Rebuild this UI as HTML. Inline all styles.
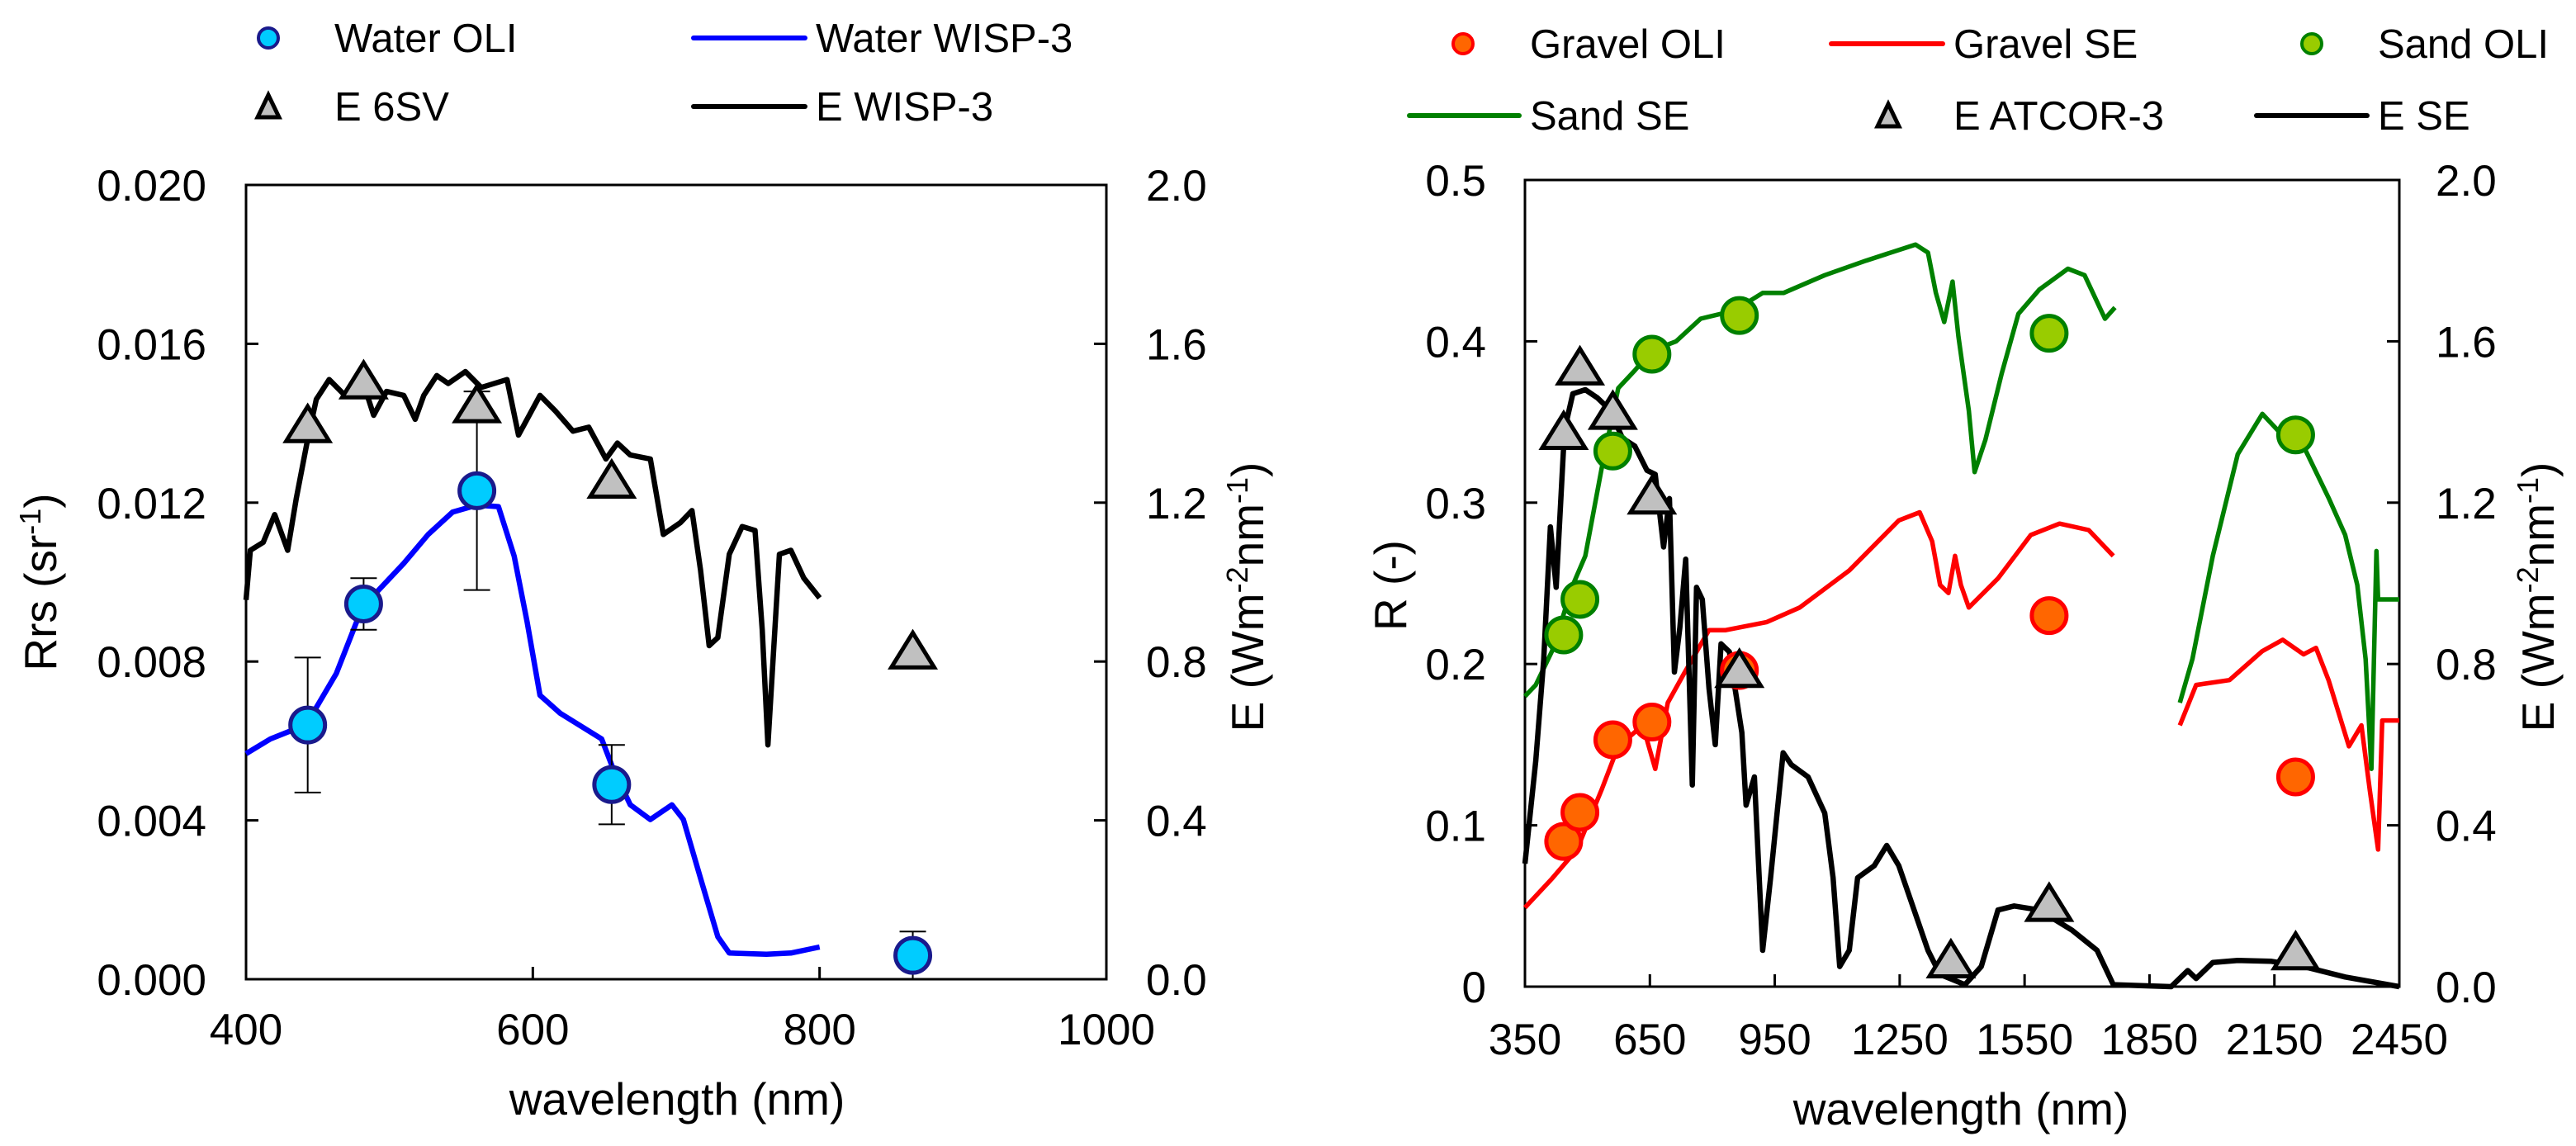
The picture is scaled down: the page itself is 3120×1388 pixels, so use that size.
<!DOCTYPE html>
<html><head><meta charset="utf-8">
<style>
html,body{margin:0;padding:0;background:#fff;overflow:hidden;}
svg{display:block;font-family:"Liberation Sans",Arial,sans-serif;}
</style></head>
<body>
<svg id="chart" width="3120" height="1388" viewBox="0 0 3120 1388" xmlns="http://www.w3.org/2000/svg">
<rect width="3120" height="1388" fill="#fff"/>
<g id="left"></g>
<g id="right"></g>
</svg>
<script>
// ---------- LEFT PANEL DATA ----------
const waterWispWl = [400,417,442,463,481,510,527,544,561,576,587,596,605,619,648,656,668,682,697,705,717,729,737,763,780,800];
const waterWispRrs = [0.00568,0.00605,0.00641,0.0077,0.00936,0.01047,0.0112,0.01176,0.01194,0.0119,0.01065,0.009,0.00715,0.0067,0.00605,0.0053,0.00439,0.00402,0.00439,0.00402,0.00254,0.00107,0.00066,0.00063,0.00066,0.00081];
const eWispWl = [400,403,412,420,429,435,443,449,458,469,481,489,498,510,518,524,533,541,553,564,582,590,605,616,628,639,651,659,668,682,691,703,711,717,723,729,737,746,755,760,764,772,780,789,800];
const eWispE = [0.955,1.08,1.10,1.17,1.08,1.21,1.36,1.46,1.51,1.47,1.51,1.42,1.48,1.47,1.41,1.47,1.52,1.50,1.53,1.49,1.51,1.37,1.47,1.43,1.38,1.39,1.31,1.35,1.32,1.31,1.12,1.15,1.18,1.03,0.84,0.86,1.07,1.14,1.13,0.88,0.59,1.07,1.08,1.01,0.96];
const oliWl = [443,482,561,655,865];
const waterOli = [0.0064,0.00945,0.0123,0.0049,0.0006];
const waterOliErr = [0.0017,0.00065,0.0025,0.001,0.0006];
const e6sv = [1.39,1.50,1.44,1.25,0.82];
const leftXTicks = [400,600,800,1000];
const leftYTicks = ["0.000","0.004","0.008","0.012","0.016","0.020"];
const leftY2Ticks = ["0.0","0.4","0.8","1.2","1.6","2.0"];

// ---------- RIGHT PANEL DATA ----------
const oliWl7 = [443,482,561,655,865,1609,2201];
const sandSeWl1 = [350,376,415,465,495,534,574,614,653,713,772,852,921,971,1070,1169,1288,1318,1337,1357,1377,1391,1416,1430,1456,1495,1535,1585,1654,1694,1743,1767];
const sandSeR1 = [0.18,0.187,0.208,0.249,0.267,0.321,0.371,0.382,0.394,0.40,0.414,0.419,0.43,0.43,0.441,0.45,0.46,0.455,0.43,0.412,0.437,0.403,0.357,0.319,0.339,0.38,0.417,0.432,0.445,0.441,0.414,0.421];
const sandSeWl2 = [1923,1953,2002,2062,2121,2161,2220,2280,2320,2349,2369,2383,2395,2399,2450];
const sandSeR2 = [0.176,0.203,0.267,0.33,0.355,0.344,0.335,0.303,0.28,0.249,0.203,0.135,0.27,0.24,0.24];
const gravelSeWl1 = [350,415,475,534,574,633,663,693,732,792,832,931,1010,1129,1248,1298,1328,1347,1367,1383,1397,1416,1486,1565,1634,1704,1763];
const gravelSeR1 = [0.049,0.067,0.085,0.122,0.149,0.162,0.135,0.176,0.194,0.221,0.221,0.226,0.235,0.258,0.289,0.294,0.276,0.249,0.244,0.267,0.249,0.235,0.253,0.28,0.287,0.283,0.267];
const gravelSeWl2 = [1923,1962,2042,2121,2170,2220,2250,2280,2329,2359,2379,2399,2409,2450];
const gravelSeR2 = [0.162,0.187,0.19,0.208,0.215,0.206,0.21,0.19,0.149,0.162,0.122,0.085,0.165,0.165];
const eSeWl = [350,376,395,411,425,445,465,495,524,554,584,614,643,663,683,697,709,722,736,752,762,776,792,807,821,841,871,881,901,921,940,970,990,1030,1070,1090,1106,1129,1149,1189,1219,1248,1288,1318,1347,1407,1446,1486,1525,1585,1664,1724,1763,1902,1942,1962,2002,2062,2141,2220,2320,2450];
const eSeE = [0.305,0.56,0.81,1.14,0.99,1.38,1.47,1.48,1.46,1.43,1.36,1.34,1.28,1.27,1.09,1.21,0.78,0.89,1.06,0.5,0.99,0.96,0.74,0.6,0.85,0.83,0.63,0.45,0.52,0.09,0.27,0.58,0.55,0.52,0.43,0.27,0.05,0.09,0.27,0.30,0.35,0.30,0.18,0.09,0.03,0.005,0.05,0.19,0.20,0.19,0.14,0.09,0.005,0,0.04,0.02,0.06,0.065,0.063,0.05,0.024,0];
const gravelOli = [0.09,0.108,0.153,0.164,0.196,0.23,0.13];
const sandOli = [0.218,0.24,0.332,0.392,0.416,0.405,0.342];
const eAtcorWl = [443,482,561,655,865,1373,1609,2201];
const eAtcor = [1.37,1.53,1.42,1.21,0.78,0.06,0.2,0.08];
const rightXTicks = [350,650,950,1250,1550,1850,2150,2450];
const rightYTicks = ["0","0.1","0.2","0.3","0.4","0.5"];
const rightY2Ticks = ["0.0","0.4","0.8","1.2","1.6","2.0"];

const NS = "http://www.w3.org/2000/svg";
function mk(parent, tag, attrs, txt){
  const e = document.createElementNS(NS, tag);
  for (const k in attrs) e.setAttribute(k, attrs[k]);
  if (txt !== undefined) e.textContent = txt;
  parent.appendChild(e);
  return e;
}
function lin(d0,d1,r0,r1){ return v => r0 + (v-d0)/(d1-d0)*(r1-r0); }
function pathD(xs, ys, fx, fy){ return xs.map((x,i)=>(i?'L':'M')+fx(x).toFixed(1)+','+fy(ys[i]).toFixed(1)).join(''); }
function circle(g, cx, cy, fill, stroke){
  return mk(g,'circle',{cx:cx,cy:cy,r:21,fill:fill,stroke:stroke,'stroke-width':5});
}
function tri(g, cx, cy){
  const h=42, w=52;
  return mk(g,'polygon',{points:`${cx},${cy-h*0.6} ${cx-w/2},${cy+h*0.4} ${cx+w/2},${cy+h*0.4}`,fill:'#c0c0c0',stroke:'#000','stroke-width':5});
}
function axesFrame(g, L, R, T, B){
  const f = mk(g,'rect',{x:L,y:T,width:R-L,height:B-T,fill:'none',stroke:'#000','stroke-width':3});
  
  
}
const FS = 53, TFS = 55, LFS = 49;

// ---------- LEFT ----------
(function(){
  const g = document.getElementById('left');
  const L=298,R=1340,T=224,B=1186;
  const fx = lin(400,1000,L,R), fy = lin(0,0.020,B,T), fy2 = lin(0,2.0,B,T);
  axesFrame(g,L,R,T,B);
  leftXTicks.forEach(v=>{
    const x=fx(v);
    const tk = mk(g,'line',{x1:x,y1:B,x2:x,y2:B-15,stroke:'#000','stroke-width':3});
    
    
    const t = mk(g,'text',{x:x,y:1265,'font-size':FS,'text-anchor':'middle'},String(v));
    
    
  });
  leftYTicks.forEach(s=>{
    const y=fy(parseFloat(s));
    mk(g,'line',{x1:L,y1:y,x2:L+15,y2:y,stroke:'#000','stroke-width':3});
    const t = mk(g,'text',{x:250,y:y+19,'font-size':FS,'text-anchor':'end'},s);
    
    
  });
  leftY2Ticks.forEach(s=>{
    const y=fy2(parseFloat(s));
    mk(g,'line',{x1:R,y1:y,x2:R-15,y2:y,stroke:'#000','stroke-width':3});
    const t = mk(g,'text',{x:1388,y:y+19,'font-size':FS,'text-anchor':'start'},s);
    
    
  });
  const xt = mk(g,'text',{x:820,y:1350,'font-size':TFS,'text-anchor':'middle'},'wavelength (nm)');
   
  const yt = mk(g,'text',{x:0,y:0,'font-size':TFS,'text-anchor':'middle',transform:'translate(68,705) rotate(-90)'});
   
  yt.innerHTML='Rrs (sr<tspan dy="-19" font-size="36">-1</tspan><tspan dy="19">)</tspan>';
  const y2t = mk(g,'text',{x:0,y:0,'font-size':TFS,'text-anchor':'middle',transform:'translate(1530,723) rotate(-90)'});
   
  y2t.innerHTML='E (Wm<tspan dy="-19" font-size="36">-2</tspan><tspan dy="19">nm</tspan><tspan dy="-19" font-size="36">-1</tspan><tspan dy="19">)</tspan>';

  const eLine = mk(g,'path',{d:pathD(eWispWl,eWispE,fx,fy2),fill:'none',stroke:'#000','stroke-width':6.5,'stroke-linejoin':'round'});
   
  const wLine = mk(g,'path',{d:pathD(waterWispWl,waterWispRrs,fx,fy),fill:'none',stroke:'#0000ff','stroke-width':6.5,'stroke-linejoin':'round'});
   
  oliWl.forEach((w,i)=>{
    const x=fx(w), y1=fy(waterOli[i]+waterOliErr[i]), y0=fy(Math.max(0,waterOli[i]-waterOliErr[i]));
    const eb = mk(g,'path',{d:`M${x},${y0}L${x},${y1}M${x-16},${y0}L${x+16},${y0}M${x-16},${y1}L${x+16},${y1}`,stroke:'#000','stroke-width':2,fill:'none'});
     
  });
  oliWl.forEach((w,i)=>{
    const c = circle(g,fx(w),fy(waterOli[i]),'#00ccff','#1a1a8c');
     
  });
  oliWl.forEach((w,i)=>{
    const t = tri(g,fx(w),fy2(e6sv[i]));
     
  });
  const lg = mk(g,'g',{});
   
  mk(lg,'circle',{cx:325,cy:46,r:12,fill:'#00ccff',stroke:'#1a1a8c','stroke-width':4});
  mk(lg,'text',{x:405,y:63,'font-size':LFS},'Water OLI');
  mk(lg,'line',{x1:840,y1:46,x2:975,y2:46,stroke:'#0000ff','stroke-width':6,'stroke-linecap':'round'});
  mk(lg,'text',{x:988,y:63,'font-size':LFS},'Water WISP-3');
  mk(lg,'polygon',{points:'325,115 312,142 338,142',fill:'#c0c0c0',stroke:'#000','stroke-width':5});
  mk(lg,'text',{x:405,y:146,'font-size':LFS},'E 6SV');
  mk(lg,'line',{x1:840,y1:129,x2:975,y2:129,stroke:'#000','stroke-width':6,'stroke-linecap':'round'});
  mk(lg,'text',{x:988,y:146,'font-size':LFS},'E WISP-3');
})();

// ---------- RIGHT ----------
(function(){
  const g = document.getElementById('right');
  const L=1847,R=2906,T=218,B=1195;
  const fx = lin(350,2450,L,R), fy = lin(0,0.5,B,T), fy2 = lin(0,2.0,B,T);
  axesFrame(g,L,R,T,B);
  rightXTicks.forEach(v=>{
    const x=fx(v);
    mk(g,'line',{x1:x,y1:B,x2:x,y2:B-15,stroke:'#000','stroke-width':3});
    const t = mk(g,'text',{x:x,y:1277,'font-size':FS,'text-anchor':'middle'},String(v));
     
  });
  rightYTicks.forEach(s=>{
    const y=fy(parseFloat(s));
    mk(g,'line',{x1:L,y1:y,x2:L+15,y2:y,stroke:'#000','stroke-width':3});
    const t = mk(g,'text',{x:1800,y:y+19,'font-size':FS,'text-anchor':'end'},s);
     
  });
  rightY2Ticks.forEach(s=>{
    const y=fy2(parseFloat(s));
    mk(g,'line',{x1:R,y1:y,x2:R-15,y2:y,stroke:'#000','stroke-width':3});
    const t = mk(g,'text',{x:2950,y:y+19,'font-size':FS,'text-anchor':'start'},s);
     
  });
  const xt = mk(g,'text',{x:2375,y:1362,'font-size':TFS,'text-anchor':'middle'},'wavelength (nm)');
   
  const yt = mk(g,'text',{x:0,y:0,'font-size':TFS,'text-anchor':'middle',transform:'translate(1703,709) rotate(-90)'},'R (-)');
   
  const y2t = mk(g,'text',{x:0,y:0,'font-size':TFS,'text-anchor':'middle',transform:'translate(3093,723) rotate(-90)'});
   
  y2t.innerHTML='E (Wm<tspan dy="-19" font-size="36">-2</tspan><tspan dy="19">nm</tspan><tspan dy="-19" font-size="36">-1</tspan><tspan dy="19">)</tspan>';

  let p;
  p = mk(g,'path',{d:pathD(sandSeWl1,sandSeR1,fx,fy)+pathD(sandSeWl2,sandSeR2,fx,fy),fill:'none',stroke:'#008000','stroke-width':5.5,'stroke-linejoin':'round'});
   
  p = mk(g,'path',{d:pathD(gravelSeWl1,gravelSeR1,fx,fy)+pathD(gravelSeWl2,gravelSeR2,fx,fy),fill:'none',stroke:'#ff0000','stroke-width':5.5,'stroke-linejoin':'round'});
   
  p = mk(g,'path',{d:pathD(eSeWl,eSeE,fx,fy2),fill:'none',stroke:'#000','stroke-width':6.5,'stroke-linejoin':'round'});
   
  oliWl7.forEach((w,i)=>{
    const c = circle(g,fx(w),fy(gravelOli[i]),'#ff6600','#ff0000');
     
  });
  oliWl7.forEach((w,i)=>{
    const c = circle(g,fx(w),fy(sandOli[i]),'#99cc00','#008000');
     
  });
  eAtcorWl.forEach((w,i)=>{
    const t = tri(g,fx(w),fy2(eAtcor[i]));
     
  });
  const lg = mk(g,'g',{});
   
  const o=1560;
  mk(lg,'circle',{cx:o+212,cy:53,r:12,fill:'#ff6600',stroke:'#ff0000','stroke-width':4});
  mk(lg,'text',{x:o+293,y:70,'font-size':LFS},'Gravel OLI');
  mk(lg,'line',{x1:o+658,y1:53,x2:o+793,y2:53,stroke:'#ff0000','stroke-width':6,'stroke-linecap':'round'});
  mk(lg,'text',{x:o+806,y:70,'font-size':LFS},'Gravel SE');
  mk(lg,'circle',{cx:o+1240,cy:53,r:12,fill:'#99cc00',stroke:'#008000','stroke-width':4});
  mk(lg,'text',{x:o+1320,y:70,'font-size':LFS},'Sand OLI');
  mk(lg,'line',{x1:o+147,y1:140,x2:o+280,y2:140,stroke:'#008000','stroke-width':6,'stroke-linecap':'round'});
  mk(lg,'text',{x:o+293,y:157,'font-size':LFS},'Sand SE');
  mk(lg,'polygon',{points:`${o+727},126 ${o+714},153 ${o+740},153`,fill:'#c0c0c0',stroke:'#000','stroke-width':5});
  mk(lg,'text',{x:o+806,y:157,'font-size':LFS},'E ATCOR-3');
  mk(lg,'line',{x1:o+1173,y1:140,x2:o+1307,y2:140,stroke:'#000','stroke-width':6,'stroke-linecap':'round'});
  mk(lg,'text',{x:o+1320,y:157,'font-size':LFS},'E SE');
})();
</script>
</body></html>
